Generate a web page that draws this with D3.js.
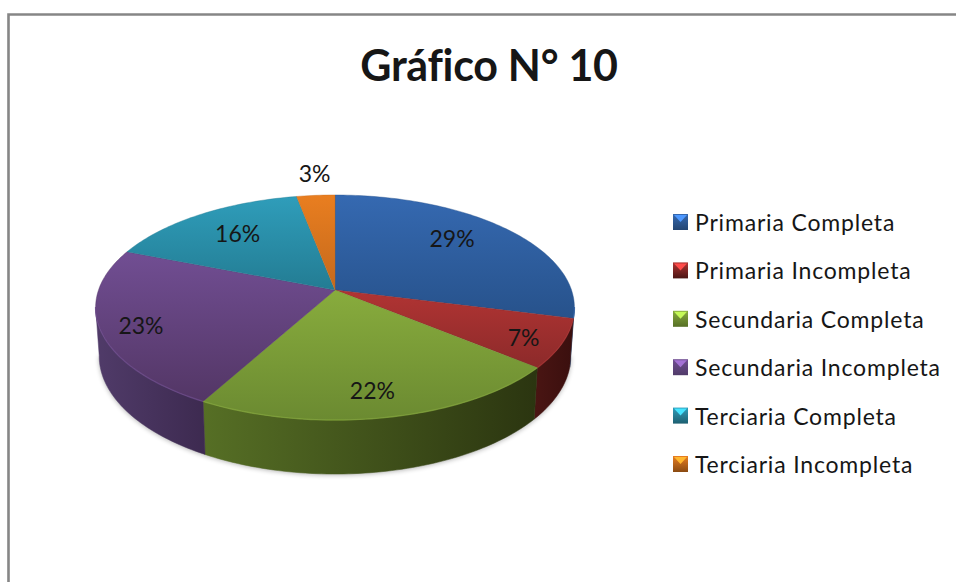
<!DOCTYPE html>
<html>
<head>
<meta charset="utf-8">
<script src="https://cdn.jsdelivr.net/npm/d3@7"></script>
<style>
  html, body { margin: 0; padding: 0; background: #fff; }
  svg { display: block; }
  text { font-family: Lato, "Open Sans", sans-serif; fill: #161616; }
</style>
</head>
<body>
<div id="chart"></div>
<script>
const categories = ['Primaria Completa', 'Primaria Incompleta', 'Secundaria Completa',
  'Secundaria Incompleta', 'Terciaria Completa', 'Terciaria Incompleta'];
const values = [29, 7, 22, 23, 16, 3];
const title = 'Gráfico N° 10';

const topLight = ['#3569b1', '#b13433', '#88ac3d', '#714e93', '#2f9dba', '#e97e20'];
const topDark = ['#27528b', '#8c2a2a', '#6b8a31', '#533665', '#237c93', '#c4691c'];
const sideLight = ['#234572', '#4a1513', '#566f25', '#503b69', '#1d5f70', '#8a4a12'];
const sideDark = ['#1d3a60', '#3a0f0e', '#2b3510', '#3d2a50', '#174e5c', '#703c0e'];

const WIDTH = 956, HEIGHT = 582;
// perspective of the tilted disc, fitted to the reference
const CX = 335, CY = 290, RX = 236.5, RY = 109.8, TILT = -0.1556;
const BOTTOM_Y = 337.5, BOTTOM_SX = 0.985, BOTTOM_SY = 1.05;
const SIDE_START = 98.7 * Math.PI / 180, SIDE_END = 261.3 * Math.PI / 180;

const svg = d3.select('#chart').append('svg')
    .attr('width', WIDTH)
    .attr('height', HEIGHT);
const defs = svg.append('defs');

function project(angle, r = 1) {
    const u = Math.sin(angle) * r, v = -Math.cos(angle) * r;
    const w = 1 + TILT * v;
    return [CX + RX * u / w, CY + RY * v / w];
}
function projectBottom(angle) {
    const p = project(angle);
    return [CX + (p[0] - CX) * BOTTOM_SX, BOTTOM_Y + (p[1] - CY) * BOTTOM_SY];
}
function arcAngles(a0, a1) {
    const n = Math.max(2, Math.ceil((a1 - a0) / 0.02));
    return d3.range(n + 1).map(i => a0 + (a1 - a0) * i / n);
}

const line = d3.line();
const arcs = d3.pie().sort(null)(values);

// frame
svg.append('path')
    .attr('d', line([[8.5, HEIGHT], [8.5, 14.5], [WIDTH, 14.5]]))
    .attr('fill', 'none')
    .attr('stroke', '#868686')
    .attr('stroke-width', 2.6);

// title
svg.append('text')
    .attr('x', 489)
    .attr('y', 81)
    .attr('text-anchor', 'middle')
    .attr('font-size', 43)
    .attr('font-weight', 700)
    .attr('letter-spacing', -0.3)
    .text(title);

// gradients
values.forEach((v, i) => {
    const top = defs.append('linearGradient').attr('id', 'top' + i)
        .attr('x1', '0%').attr('x2', '0%').attr('y1', '0%').attr('y2', '100%');
    top.append('stop').attr('offset', '0%').style('stop-color', topLight[i]);
    top.append('stop').attr('offset', '100%').style('stop-color', topDark[i]);
    const side = defs.append('linearGradient').attr('id', 'side' + i)
        .attr('x1', '0%').attr('x2', '100%').attr('y1', '0%').attr('y2', '0%');
    side.append('stop').attr('offset', '0%').style('stop-color', sideLight[i]);
    side.append('stop').attr('offset', '100%').style('stop-color', sideDark[i]);
    const key = defs.append('linearGradient').attr('id', 'key' + i)
        .attr('x1', '0%').attr('x2', '0%').attr('y1', '0%').attr('y2', '100%');
    key.append('stop').attr('offset', '0%').style('stop-color', topLight[i]);
    key.append('stop').attr('offset', '100%').style('stop-color', sideLight[i]);
});
const blur = defs.append('filter').attr('id', 'soft')
    .attr('x', '-10%').attr('y', '-10%').attr('width', '120%').attr('height', '120%');
blur.append('feGaussianBlur').attr('stdDeviation', 2.5);

// soft shadow under the disc
svg.append('path')
    .attr('d', line(arcAngles(SIDE_START, SIDE_END).map(projectBottom)
        .map(p => [p[0], p[1] + 1])) + 'Z')
    .attr('fill', '#000')
    .attr('opacity', 0.3)
    .attr('filter', 'url(#soft)');

// side walls
const sides = arcs.map((d, i) => ({ i, a0: Math.max(d.startAngle, SIDE_START), a1: Math.min(d.endAngle, SIDE_END) }))
    .filter(d => d.a1 > d.a0);
svg.append('g').selectAll('path')
    .data(sides)
    .enter().append('path')
    .attr('d', d => {
        const a = arcAngles(d.a0, d.a1);
        return line(a.map(t => project(t)).concat(a.slice().reverse().map(projectBottom))) + 'Z';
    })
    .attr('fill', d => `url(#side${d.i})`)
    .attr('stroke', d => `url(#side${d.i})`)
    .attr('stroke-width', 0.5);

// top slices
svg.append('g').selectAll('path')
    .data(arcs)
    .enter().append('path')
    .attr('d', d => line([[CX, CY]].concat(arcAngles(d.startAngle, d.endAngle).map(t => project(t)))) + 'Z')
    .attr('fill', (d, i) => `url(#top${i})`)
    .attr('stroke', (d, i) => topDark[i])
    .attr('stroke-width', 0.4);

// lighter rim on the front edge
svg.append('g').selectAll('path')
    .data(sides)
    .enter().append('path')
    .attr('d', d => line(arcAngles(d.a0, d.a1).map(t => project(t))))
    .attr('fill', 'none')
    .attr('stroke', d => topLight[d.i])
    .attr('stroke-opacity', 0.6)
    .attr('stroke-width', 1.4);

// data labels
const labelRadius = [0.66, 0.85, 0.8, 0.85, 0.7, 1.26];
const labelShift = [[1, -9], [-2, 3], [-3, 3], [4, 3], [0, -1], [3, -1]];
svg.append('g').selectAll('text')
    .data(arcs)
    .enter().append('text')
    .attr('x', (d, i) => project((d.startAngle + d.endAngle) / 2, labelRadius[i])[0] + labelShift[i][0])
    .attr('y', (d, i) => project((d.startAngle + d.endAngle) / 2, labelRadius[i])[1] + labelShift[i][1])
    .attr('dy', '0.35em')
    .attr('text-anchor', 'middle')
    .attr('font-size', 23)
    .text(d => d.value + '%');

// legend
const y = d3.scalePoint().domain(categories).range([222, 464]);
const legend = svg.append('g').selectAll('g')
    .data(categories)
    .enter().append('g')
    .attr('transform', d => `translate(673, ${y(d)})`);
legend.append('rect')
    .attr('y', -8)
    .attr('width', 15)
    .attr('height', 16)
    .attr('fill', (d, i) => `url(#key${i})`);
legend.append('path')
    .attr('d', line([[1, -7], [14, -7], [7.5, 0]]) + 'Z')
    .attr('fill', (d, i) => topLight[i])
    .attr('style', 'filter: brightness(1.45)');
legend.append('text')
    .attr('x', 22)
    .attr('y', 1)
    .attr('dy', '0.35em')
    .attr('font-size', 23)
    .attr('letter-spacing', 0.82)
    .text(d => d);
</script>
</body>
</html>
